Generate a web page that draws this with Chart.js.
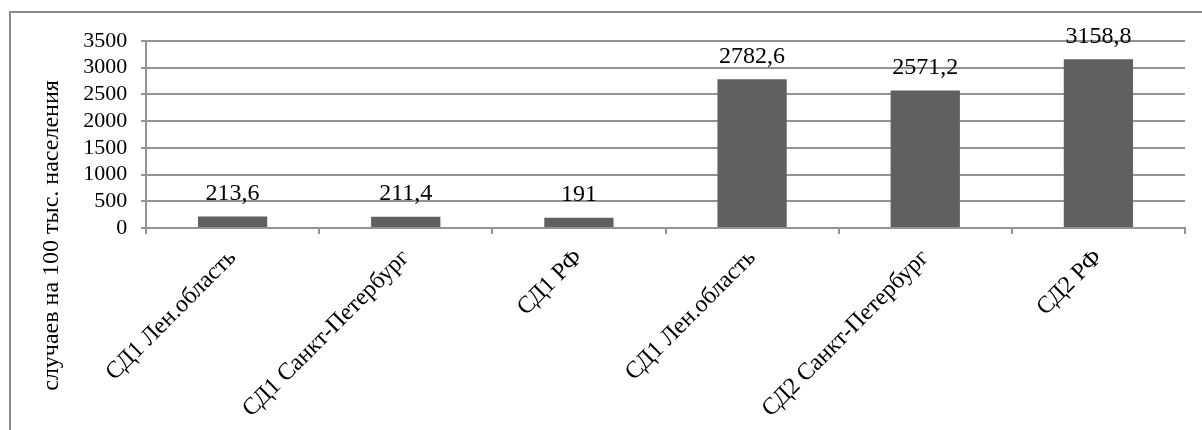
<!DOCTYPE html>
<html lang="ru">
<head>
<meta charset="utf-8">
<title>Заболеваемость СД1 и СД2</title>
<script src="https://cdn.jsdelivr.net/npm/chart.js@4/dist/chart.umd.min.js"></script>
<style>
  html, body { margin: 0; padding: 0; background: #fff; }
  body { width: 1202px; height: 430px; position: relative; overflow: hidden; }
  .frame { position: absolute; left: 9px; top: 11px; width: 1300px; height: 500px;
           border-left: 2px solid #8c8c8c; border-top: 2px solid #8c8c8c; }
  .wrap { position: absolute; left: 0; top: 0; width: 1202px; height: 430px; }
  #chart { display: block; width: 1202px; height: 430px; }
</style>
</head>
<body>
<div class="frame"></div>
<div class="wrap"><canvas id="chart" width="1202" height="430"></canvas></div>
<script>
// Categories and incidence values (cases per 100 thousand population)
const categories = ['СД1 Лен.область', 'СД1 Санкт-Петербург', 'СД1 РФ',
                    'СД1 Лен.область', 'СД2 Санкт-Петербург', 'СД2 РФ'];
const incidence = [213.6, 211.4, 191, 2782.6, 2571.2, 3158.8];
const yTicks = [0, 500, 1000, 1500, 2000, 2500, 3000, 3500];
const yTitle = 'случаев на 100 тыс. населения';

const serif = '"Liberation Serif", "Times New Roman", serif';
const gridColor = '#939393';
const fmt = v => String(v).replace('.', ',');

// Value labels above each bar
const barValueLabels = {
  id: 'barValueLabels',
  afterDatasetsDraw(chart) {
    const ctx = chart.ctx;
    const meta = chart.getDatasetMeta(0);
    ctx.save();
    ctx.font = '24px ' + serif;
    ctx.fillStyle = '#000';
    ctx.textAlign = 'center';
    ctx.textBaseline = 'alphabetic';
    meta.data.forEach((bar, i) => {
      ctx.fillText(fmt(chart.data.datasets[0].data[i]), bar.x, bar.y - 16.5);
    });
    ctx.restore();
  }
};

// Vertical caption for the value axis
const axisCaption = {
  id: 'axisCaption',
  afterDraw(chart) {
    const ctx = chart.ctx;
    ctx.save();
    ctx.translate(57.5, 235.5);
    ctx.rotate(-Math.PI / 2);
    ctx.font = '24px ' + serif;
    ctx.fillStyle = '#000';
    ctx.textAlign = 'center';
    ctx.textBaseline = 'alphabetic';
    ctx.fillText(yTitle, 0, 0);
    ctx.restore();
  }
};

new Chart(document.getElementById('chart'), {
  type: 'bar',
  data: {
    labels: categories,
    datasets: [{
      data: incidence,
      backgroundColor: '#606060',
      borderWidth: 0,
      barPercentage: 0.4,
      categoryPercentage: 1.0
    }]
  },
  options: {
    responsive: false,
    maintainAspectRatio: false,
    animation: false,
    layout: { padding: { top: 41, right: 17, left: 0, bottom: 0 } },
    plugins: { legend: { display: false }, tooltip: { enabled: false } },
    scales: {
      x: {
        offset: true,
        grid: { offset: true, drawOnChartArea: false, drawTicks: true, tickLength: 6,
                color: gridColor, lineWidth: 2 },
        border: { display: true, color: gridColor, width: 2 },
        ticks: {
          autoSkip: false, minRotation: 45, maxRotation: 45, padding: 10,
          color: '#000', font: { family: serif, size: 24 }
        },
        afterCalculateLabelRotation(scale) { scale.labelRotation = 45; },
        afterFit(scale) { scale.height = 202; }
      },
      y: {
        min: 0, max: 3500,
        afterBuildTicks(scale) { scale.ticks = yTicks.map(v => ({ value: v })); },
        grid: { color: gridColor, lineWidth: 2, drawTicks: true, tickLength: 5 },
        border: { display: true, color: gridColor, width: 2 },
        ticks: {
          autoSkip: false, padding: 13.7, color: '#000', font: { family: serif, size: 22 },
          callback: v => String(v)
        },
        afterFit(scale) { scale.width = 146; }
      }
    }
  },
  plugins: [barValueLabels, axisCaption]
});
</script>
</body>
</html>
